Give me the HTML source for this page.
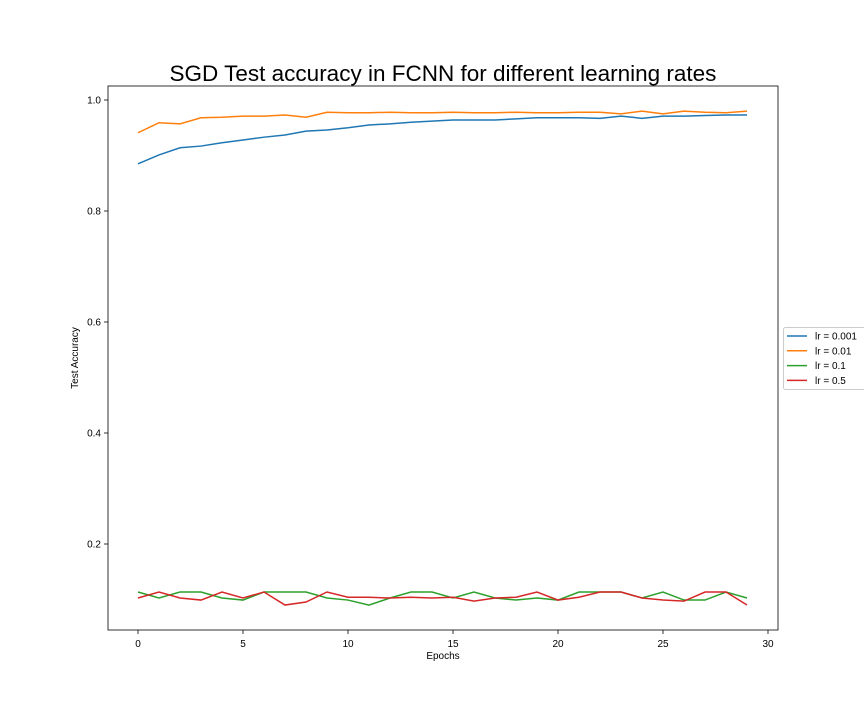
<!DOCTYPE html>
<html><head><meta charset="utf-8"><style>
body{margin:0;background:#fff;}
svg{display:block;font-family:"Liberation Sans","DejaVu Sans",sans-serif;}
</style></head><body>
<svg id="chart" width="864" height="720"></svg>
<script>
const epochs=[0,1,2,3,4,5,6,7,8,9,10,11,12,13,14,15,16,17,18,19,20,21,22,23,24,25,26,27,28,29];
const lr0001=[0.885,0.901,0.914,0.917,0.923,0.928,0.933,0.937,0.944,0.946,0.950,0.955,0.957,0.960,0.962,0.964,0.964,0.964,0.966,0.968,0.968,0.968,0.967,0.971,0.967,0.971,0.971,0.972,0.973,0.973];
const lr001=[0.941,0.959,0.957,0.968,0.969,0.971,0.971,0.973,0.969,0.978,0.977,0.977,0.978,0.977,0.977,0.978,0.977,0.977,0.978,0.977,0.977,0.978,0.978,0.975,0.980,0.975,0.980,0.978,0.977,0.980];
const lr01=[0.1135,0.1027,0.1135,0.1135,0.1027,0.099,0.1135,0.1135,0.1135,0.1027,0.099,0.090,0.1027,0.1135,0.1135,0.1027,0.1135,0.1027,0.099,0.1027,0.099,0.1135,0.1135,0.1135,0.1027,0.1135,0.099,0.099,0.1135,0.1027];
const lr05=[0.1027,0.1135,0.1027,0.099,0.1135,0.1027,0.1135,0.090,0.0955,0.1135,0.104,0.104,0.1027,0.104,0.1027,0.104,0.097,0.1027,0.104,0.1135,0.099,0.104,0.1135,0.1135,0.1027,0.099,0.097,0.1135,0.1135,0.090];
const xTicks=[0,5,10,15,20,25,30];
const yTicks=[0.2,0.4,0.6,0.8,1.0];
const seriesNames=["lr = 0.001","lr = 0.01","lr = 0.1","lr = 0.5"];
const colors=["#1f77b4","#ff7f0e","#2ca02c","#d62728"];
const NS="http://www.w3.org/2000/svg";
const svg=document.getElementById('chart');
const L=108,R=778,T=86,B=630;
const xs=v=>138+v*21;
const ys=v=>100+(1-v)*555;
function mk(t,a,p){const e=document.createElementNS(NS,t);for(const k in a)e.setAttribute(k,a[k]);(p||svg).appendChild(e);return e;}
const title=mk('text',{x:443,y:81,'text-anchor':'middle','font-size':22.5,fill:'#000'});


title.textContent='SGD Test accuracy in FCNN for different learning rates';
xTicks.forEach(t=>{const x=xs(t);
 const l=mk('line',{x1:x,x2:x,y1:B,y2:B+4,stroke:'#000','stroke-width':0.8});
 
 
 const tx=mk('text',{x:x,y:B+17,'text-anchor':'middle','font-size':10});
 
 
 tx.textContent=t;});
yTicks.forEach(t=>{const y=ys(t);
 const l=mk('line',{x1:L-4,x2:L,y1:y,y2:y,stroke:'#000','stroke-width':0.8});
 
 
 const tx=mk('text',{x:L-7,y:y+3.5,'text-anchor':'end','font-size':10});
 
 
 tx.textContent=t.toFixed(1);});
const xl=mk('text',{x:443,y:659,'text-anchor':'middle','font-size':10});


xl.textContent='Epochs';
const yl=mk('text',{x:78,y:358,'text-anchor':'middle','font-size':10,transform:'rotate(-90 78 358)'});


yl.textContent='Test Accuracy';
[lr0001,lr001,lr01,lr05].forEach((s,i)=>{
 const p=mk('polyline',{points:s.map((v,j)=>xs(epochs[j])+','+ys(v)).join(' '),fill:'none',stroke:colors[i],'stroke-width':1.5});
 
 
});
const fr=mk('rect',{x:L,y:T,width:R-L,height:B-T,fill:'none',stroke:'#000','stroke-width':0.8});


const lg=mk('g',{});


mk('rect',{x:783.5,y:327.5,width:84,height:62,fill:'#fff',stroke:'#ccc',rx:2},lg);
seriesNames.forEach((n,i)=>{const y=336+i*14.8;
 const e=mk('g',{},lg);
 
 
 mk('line',{x1:787,x2:807,y1:y,y2:y,stroke:colors[i],'stroke-width':1.5},e);
 const t=mk('text',{x:815,y:y+3.5,'font-size':10},e);t.textContent=n;});
</script>
</body></html>
